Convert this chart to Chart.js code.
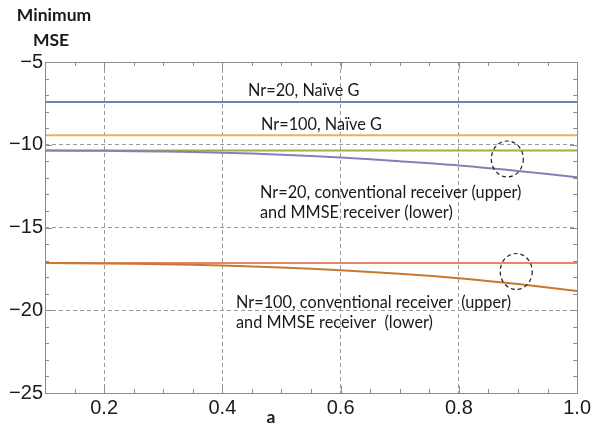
<!DOCTYPE html>
<html>
<head>
<meta charset="utf-8">
<script src="https://cdn.jsdelivr.net/npm/chart.js@4.4.1/dist/chart.umd.min.js"></script>
<style>
  html, body { margin: 0; padding: 0; background: #ffffff; }
  #wrap { width: 594px; height: 425px; }
</style>
</head>
<body>
<div id="wrap"><canvas id="c" width="594" height="425"></canvas></div>
<script>
// Mixing coefficient a
const aValues = [0.1, 0.2, 0.3, 0.4, 0.5, 0.6, 0.7, 0.8, 0.9, 1.0];

// Minimum MSE (dB) for each receiver setting
const nr20Naive        = [-7.42, -7.42, -7.42, -7.42, -7.42, -7.42, -7.42, -7.42, -7.42, -7.42];
const nr100Naive       = [-9.42, -9.42, -9.42, -9.42, -9.42, -9.42, -9.42, -9.42, -9.42, -9.42];
const nr20Conventional = [-10.35, -10.35, -10.35, -10.35, -10.35, -10.35, -10.35, -10.35, -10.35, -10.35];
const nr20Mmse         = [-10.35, -10.37, -10.41, -10.48, -10.60, -10.77, -11.00, -11.25, -11.58, -11.97];
const nr100Conventional= [-17.15, -17.15, -17.15, -17.15, -17.15, -17.15, -17.15, -17.15, -17.15, -17.15];
const nr100Mmse        = [-17.15, -17.17, -17.22, -17.30, -17.42, -17.58, -17.80, -18.07, -18.42, -18.84];

// Axis ticks
const xTicks = [0.2, 0.4, 0.6, 0.8, 1.0];
const xTickLabels = ['0.2', '0.4', '0.6', '0.8', '1.0'];
const yTicks = [-25, -20, -15, -10, -5];
const yTickLabels = ['\u221225', '\u221220', '\u221215', '\u221210', '\u22125'];

// Curve labels and the two highlighted regions (in data units)
const curveNotes = [
  { lines: ['Nr=20, Na\u00efve G'], x: 248, y: 96 },
  { lines: ['Nr=100, Na\u00efve G'], x: 261, y: 130 },
  { lines: ['Nr=20, conventional receiver (upper)', 'and MMSE receiver (lower)'], x: 260, y: 198 },
  { lines: ['Nr=100, conventional receiver  (upper)', 'and MMSE receiver  (lower)'], x: 236, y: 308 }
];
const highlightA = [0.882, 0.897];
const highlightMse = [-10.86, -17.66];

const pts = ys => aValues.map((a, i) => ({ x: a, y: ys[i] }));
const line = (label, ys, color) => ({
  label, data: pts(ys), borderColor: color, backgroundColor: color,
  borderWidth: 2, pointRadius: 0, tension: 0.3, fill: false
});

const frameAndNotes = {
  id: 'frameAndNotes',
  afterDatasetsDraw(chart) {
    const ctx = chart.ctx;
    const xs = chart.scales.x, ys = chart.scales.y;
    const L = xs.left, R = xs.right, T = ys.top, B = ys.bottom;
    ctx.save();
    // frame
    ctx.strokeStyle = '#8c8c8c';
    ctx.lineWidth = 1;
    ctx.setLineDash([]);
    ctx.strokeRect(Math.round(L) + 0.5, Math.round(T) + 0.5, Math.round(R - L), Math.round(B - T));
    // x ticks (major every 0.2, minor every 0.05), inward on top and bottom
    ctx.beginPath();
    for (let k = 2; k <= 20; k++) {
      const v = k * 0.05;
      const px = Math.round(xs.getPixelForValue(v)) + 0.5;
      const len = (k % 4 === 0) ? 7 : 4;
      ctx.moveTo(px, B); ctx.lineTo(px, B - len);
      ctx.moveTo(px, T); ctx.lineTo(px, T + len);
    }
    // y ticks (major every 5, minor every 1), inward on left and right
    for (let v = -25; v <= -5; v++) {
      const py = Math.round(ys.getPixelForValue(v)) + 0.5;
      const len = (v % 5 === 0) ? 7 : 4;
      ctx.moveTo(L, py); ctx.lineTo(L + len, py);
      ctx.moveTo(R, py); ctx.lineTo(R - len, py);
    }
    ctx.stroke();

    // dashed circles marking where upper and lower curves separate
    ctx.strokeStyle = '#222';
    ctx.lineWidth = 1.2;
    ctx.setLineDash([4, 3]);
    for (let i = 0; i < highlightA.length; i++) {
      const cx = xs.getPixelForValue(highlightA[i]);
      const cy = ys.getPixelForValue(highlightMse[i]);
      ctx.beginPath();
      ctx.ellipse(cx, cy, 16, 18, 0, 0, Math.PI * 2);
      ctx.stroke();
    }
    ctx.setLineDash([]);

    // curve notes
    ctx.fillStyle = '#1a1a1a';
    ctx.font = '16.3px Lato';
    ctx.textAlign = 'left';
    ctx.textBaseline = 'alphabetic';
    curveNotes.forEach(n => {
      n.lines.forEach((s, j) => ctx.fillText(s, n.x, n.y + j * 19.5));
    });

    // axis titles
    ctx.font = 'bold 17.5px Lato';
    ctx.textAlign = 'center';
    ctx.fillText('Minimum', 54, 21);
    ctx.fillText('MSE', 51, 46);
    ctx.fillText('a', 271, 423);
    ctx.restore();
  }
};

const interior = (v, lo, hi) => v > lo + 1e-9 && v < hi - 1e-9;

new Chart(document.getElementById('c'), {
  type: 'line',
  data: {
    datasets: [
      line('Nr=100, MMSE receiver', nr100Mmse, '#C8782E'),
      line('Nr=20, MMSE receiver', nr20Mmse, '#8A7DB6'),
      line('Nr=100, conventional receiver', nr100Conventional, '#E7866A'),
      line('Nr=20, conventional receiver', nr20Conventional, '#97B443'),
      line('Nr=100, Naive G', nr100Naive, '#E6B25C'),
      line('Nr=20, Naive G', nr20Naive, '#6787BA')
    ]
  },
  options: {
    responsive: false,
    animation: false,
    layout: { padding: { top: 62, right: 15, left: 0, bottom: 0 } },
    plugins: { legend: { display: false }, tooltip: { enabled: false } },
    scales: {
      x: {
        type: 'linear', min: 0.1, max: 1.0,
        afterBuildTicks: s => { s.ticks = xTicks.map(v => ({ value: v })); },
        afterFit: s => { s.height = 32; },
        ticks: {
          color: '#1a1a1a', padding: 3,
          font: { family: 'Liberation Sans', size: 20 },
          maxRotation: 0,
          callback: v => { const i = xTicks.findIndex(t => Math.abs(t - v) < 1e-9); return i >= 0 ? xTickLabels[i] : ''; }
        },
        grid: {
          drawTicks: false, lineWidth: 1,
          color: c => interior(c.tick.value, 0.1, 1.0) ? '#9a9a9a' : 'rgba(0,0,0,0)'
        },
        border: { display: false, dash: [4, 3] }
      },
      y: {
        type: 'linear', min: -25, max: -5,
        afterBuildTicks: s => { s.ticks = yTicks.map(v => ({ value: v })); },
        afterFit: s => { s.width = 45; },
        ticks: {
          color: '#1a1a1a', padding: 2,
          font: { family: 'Liberation Sans', size: 20 },
          callback: v => { const i = yTicks.findIndex(t => Math.abs(t - v) < 1e-9); return i >= 0 ? yTickLabels[i] : ''; }
        },
        grid: {
          drawTicks: false, lineWidth: 1,
          color: c => interior(c.tick.value, -25, -5) ? '#9a9a9a' : 'rgba(0,0,0,0)'
        },
        border: { display: false, dash: [4, 3] }
      }
    }
  },
  plugins: [frameAndNotes]
});
</script>
</body>
</html>
